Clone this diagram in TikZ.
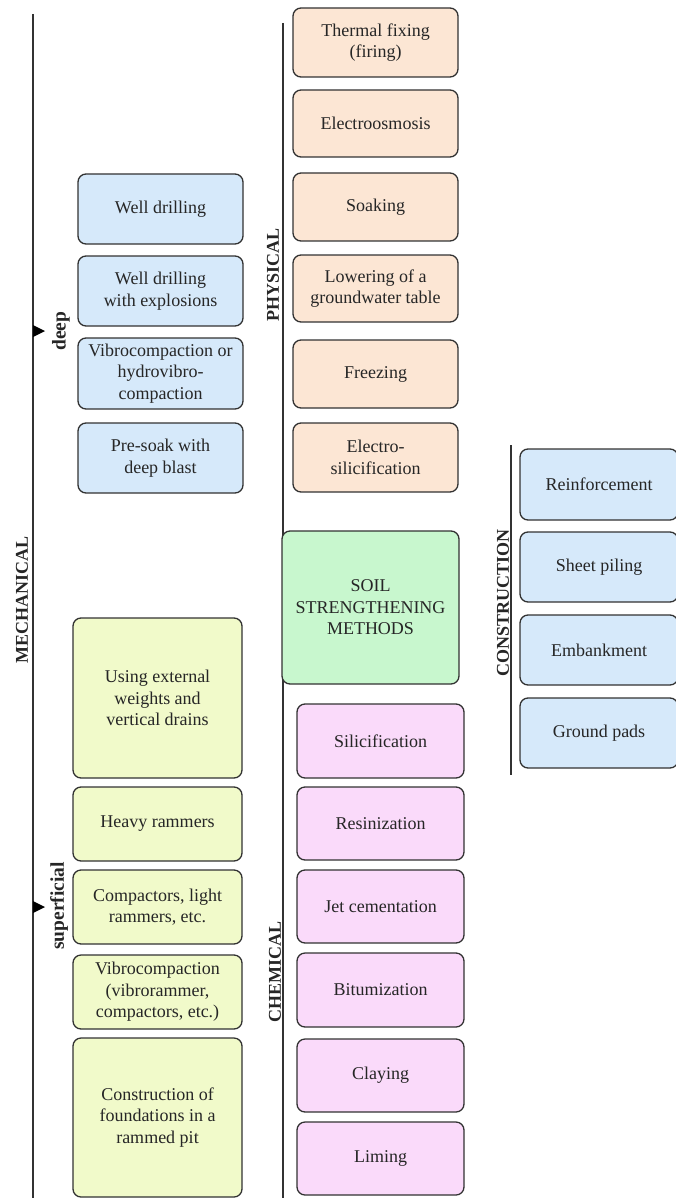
\documentclass[tikz,border=0pt]{standalone}
\usepackage{fontspec}
\setmainfont{Liberation Serif}
\usepackage{xcolor}
\usetikzlibrary{positioning}

\definecolor{deepblue}{RGB}{214,233,250}
\definecolor{peach}{RGB}{252,230,212}
\definecolor{mint}{RGB}{200,247,206}
\definecolor{pinkish}{RGB}{250,218,250}
\definecolor{lemon}{RGB}{241,250,202}
\definecolor{edge}{RGB}{50,50,50}

\begin{document}
\begin{tikzpicture}[
  x=1pt, y=-1pt,
  every node/.style={font=\fontsize{18}{21.5}\selectfont, text=black!85},
  box/.style={draw=edge, line width=1.3pt, rounded corners=8pt, align=center,
    inner sep=2pt},
  blu/.style={box, fill=deepblue, minimum width=165pt, minimum height=70pt},
  yel/.style={box, fill=lemon, minimum width=169pt, minimum height=74pt},
  pch/.style={box, fill=peach, minimum width=165pt, minimum height=68pt},
  pnk/.style={box, fill=pinkish, minimum width=167pt, minimum height=73pt},
  cst/.style={box, fill=deepblue, minimum width=158pt, minimum height=70pt},
  grp/.style={font=\bfseries\fontsize{18}{21}\selectfont, rotate=90, inner sep=0pt},
  sub/.style={font=\bfseries\fontsize{19.5}{21}\selectfont, rotate=90, inner sep=0pt},
  bar/.style={draw=edge, line width=1.3pt},
  tip/.style={fill=black}
]
\useasboundingbox (0,0) rectangle (676,1198);

\coordinate (mtop) at (33,14);
\coordinate (mbot) at (33,1198);
\coordinate (ptop) at (283,23);
\coordinate (pbot) at (283,1198);
\coordinate (ctop) at (511,445);
\coordinate (cbot) at (511,775);
\coordinate (deeptip) at (33,331);
\coordinate (suptip) at (33,907);

\draw[bar] (mtop) -- (mbot);
\draw[bar] (ptop) -- (pbot);
\draw[bar] (ctop) -- (cbot);
\fill[tip] (deeptip) ++(0,-6) -- ++(12,6) -- ++(-12,6) -- cycle;
\fill[tip] (suptip) ++(0,-6) -- ++(12,6) -- ++(-12,6) -- cycle;

\node[grp] (mech) at (22,600) {MECHANICAL};
\node[sub] (deep) at (61,331) {deep};
\node[sub] (superf) at (59,906) {superficial};
\node[grp] (phys) at (273,275) {PHYSICAL};
\node[grp] (chem) at (275,972) {CHEMICAL};
\node[grp] (constr) at (503,603) {CONSTRUCTION};

\node[blu] (wdrill) at (160.5,209) {Well drilling};
\node[blu] (wexpl) at (160.5,291) {Well drilling\\with explosions};
\node[blu, minimum height=71pt] (vibro) at (160.5,373.5) {Vibrocompaction or\\hydrovibro-\\compaction};
\node[blu] (presoak) at (160.5,458) {Pre-soak with\\deep blast};

\node[yel, minimum height=160pt] (extw) at (157.5,698) {Using external\\weights and\\vertical drains};
\node[yel] (heavy) at (157.5,824) {Heavy rammers};
\node[yel] (compact) at (157.5,907) {Compactors, light\\rammers, etc.};
\node[yel] (vibror) at (157.5,992) {Vibrocompaction\\(vibrorammer,\\compactors, etc.)};
\node[yel, minimum height=159pt] (pit) at (157.5,1117.5) {Construction of\\foundations in a\\rammed pit};

\node[pch, minimum height=69pt] (thermal) at (375.5,42.5) {Thermal fixing\\(firing)};
\node[pch, minimum height=67pt] (osmo) at (375.5,123.5) {Electroosmosis};
\node[pch] (soak) at (375.5,207) {Soaking};
\node[pch, minimum height=67pt] (lower) at (375.5,288.5) {Lowering of a\\groundwater table};
\node[pch] (freeze) at (375.5,374) {Freezing};
\node[pch, minimum height=69pt] (esilic) at (375.5,457.5) {Electro-\\silicification};

\node[box, fill=mint, minimum width=177pt, minimum height=153pt] (soil) at (370.5,607.5) {SOIL\\STRENGTHENING\\METHODS};

\node[pnk, minimum height=74pt] (silic) at (380.5,741) {Silicification};
\node[pnk] (resin) at (380.5,823.5) {Resinization};
\node[pnk] (jet) at (380.5,906.5) {Jet cementation};
\node[pnk, minimum height=74pt] (bitum) at (380.5,990) {Bitumization};
\node[pnk] (clay) at (380.5,1075.5) {Claying};
\node[pnk] (lime) at (380.5,1158.5) {Liming};

\node[cst, minimum height=71pt] (reinf) at (599,484.5) {Reinforcement};
\node[cst] (sheet) at (599,567) {Sheet piling};
\node[cst] (embank) at (599,650) {Embankment};
\node[cst] (gpads) at (599,733) {Ground pads};
\end{tikzpicture}
\end{document}
